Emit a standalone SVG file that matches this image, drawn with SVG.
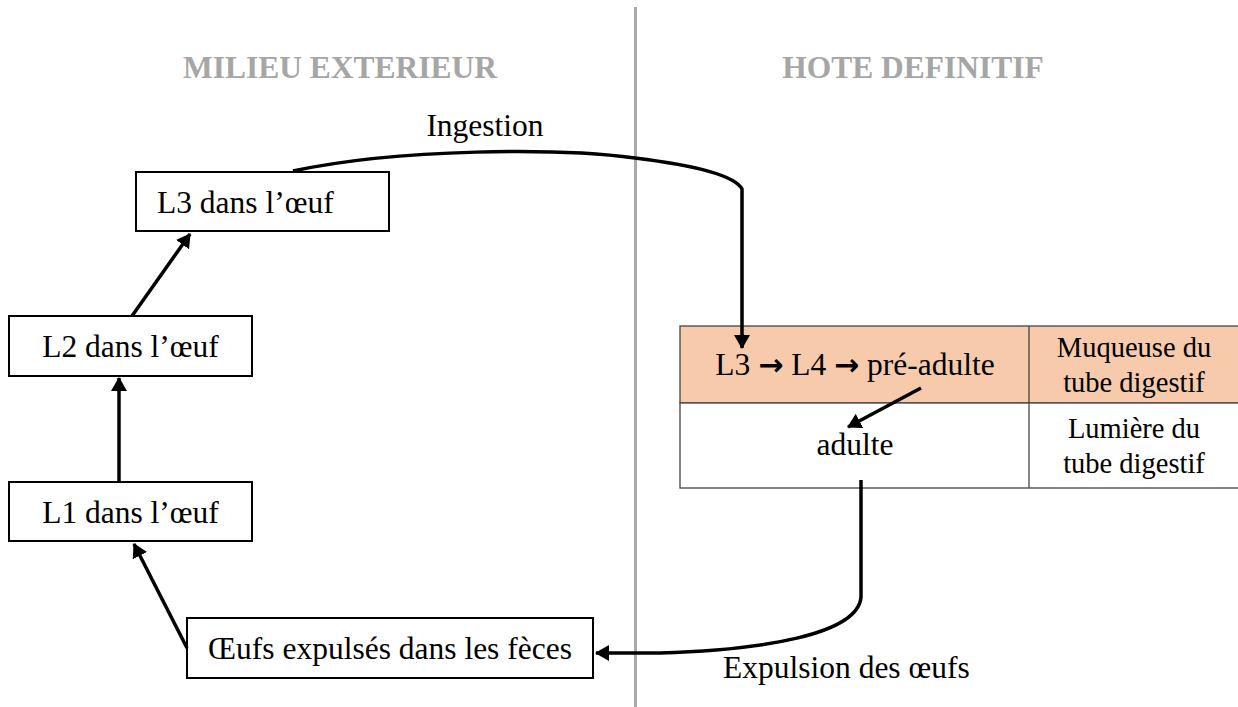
<svg xmlns="http://www.w3.org/2000/svg" width="1238" height="707" viewBox="0 0 1238 707">
<style>
.t{font-family:"Liberation Serif","Times New Roman",serif;fill:#000;font-size:31.5px}
.tc{text-anchor:middle}
.hdr{font-family:"Liberation Serif","Times New Roman",serif;font-weight:bold;font-size:31.5px;fill:#a6a6a6}
.box{fill:#fff;stroke:#000;stroke-width:2}
.cell{stroke:#444;stroke-width:1.3}
.con{fill:none;stroke:#000;stroke-width:3.5}
.ar{font-family:"DejaVu Sans",sans-serif;font-weight:bold;font-size:30px}
.sm{font-size:28.5px}
</style>
<defs>
<marker id="ah" markerUnits="userSpaceOnUse" viewBox="0 0 14 16" refX="13" refY="8" markerWidth="14" markerHeight="16" orient="auto">
<path d="M0,0 L14,8 L0,16 z" fill="#000"/>
</marker>
</defs>
<rect width="1238" height="707" fill="#fff"/>
<line x1="635.5" y1="7" x2="635.5" y2="707" stroke="#aaa" stroke-width="3"/>
<text class="hdr" x="340" y="78" text-anchor="middle">MILIEU EXTERIEUR</text>
<text class="hdr" x="913" y="78" text-anchor="middle">HOTE DEFINITIF</text>

<g id="table">
<rect class="cell" x="680" y="326" width="562" height="77" fill="#f7caac"/>
<rect class="cell" x="680" y="403" width="562" height="85" fill="#fff"/>
<line class="cell" x1="1029" y1="326" x2="1029" y2="488"/>
<text class="t tc" x="855" y="375">L3 <tspan class="ar">→</tspan> L4 <tspan class="ar">→</tspan> pré-adulte</text>
<text class="t tc" x="855" y="455">adulte</text>
<text class="t tc sm" x="1134" y="357">Muqueuse du</text>
<text class="t tc sm" x="1134" y="392">tube digestif</text>
<text class="t tc sm" x="1134" y="438">Lumière du</text>
<text class="t tc sm" x="1134" y="473">tube digestif</text>
</g>

<g id="L3">
<rect class="box" x="136" y="172" width="253" height="59"/>
<text class="t" x="157" y="213">L3 dans l’œuf</text>
</g>
<g id="L2">
<rect class="box" x="9" y="316" width="243" height="60"/>
<text class="t tc" x="130.5" y="357">L2 dans l’œuf</text>
</g>
<g id="L1">
<rect class="box" x="9" y="482" width="243" height="59"/>
<text class="t tc" x="130.5" y="523">L1 dans l’œuf</text>
</g>
<g id="oeufs">
<rect class="box" x="187" y="618" width="406" height="60"/>
<text class="t tc" x="390" y="659">Œufs expulsés dans les fèces</text>
</g>

<g id="connectors">
<line class="con" x1="119" y1="482" x2="119" y2="378" marker-end="url(#ah)"/>
<line class="con" x1="132" y1="316" x2="190" y2="234" marker-end="url(#ah)"/>
<line class="con" x1="187" y1="648" x2="134" y2="544" marker-end="url(#ah)"/>
<path class="con" d="M293,171 C400,148 560,148 635,158 C700,166 735,176 742,189 L742,348" marker-end="url(#ah)"/>
<line class="con" x1="921" y1="388" x2="848" y2="427" marker-end="url(#ah)"/>
<path class="con" d="M861,480 L861,597 C858,635 760,650 660,653 L596,653" marker-end="url(#ah)"/>
<text class="t tc" x="485" y="136">Ingestion</text>
<text class="t" x="723" y="678">Expulsion des œufs</text>
</g>
</svg>
